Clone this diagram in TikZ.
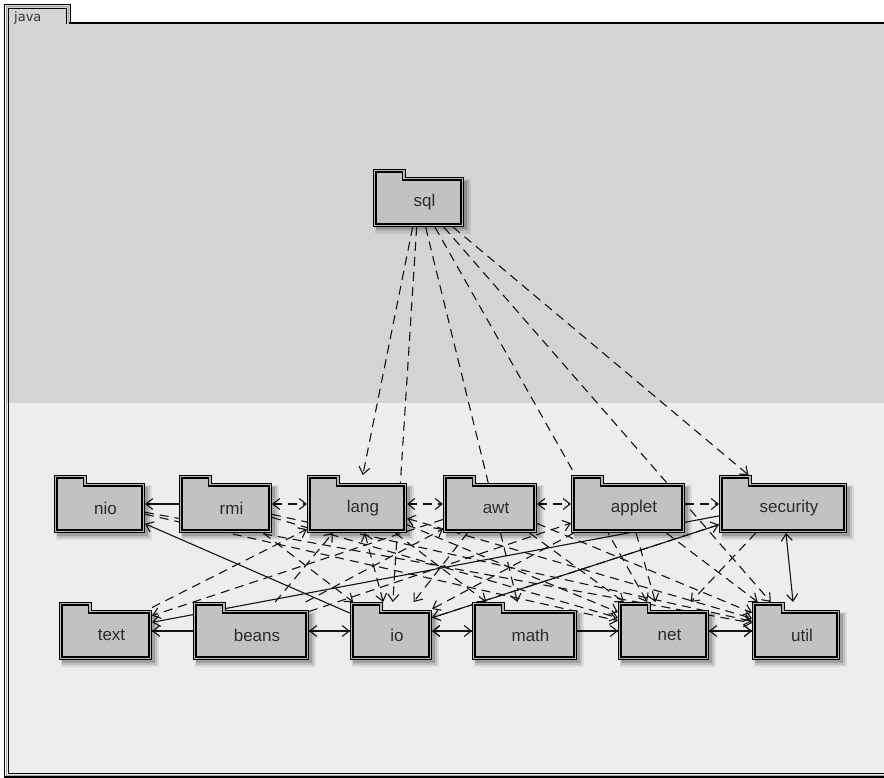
\documentclass[tikz,border=0pt]{standalone}
\usepackage{fontspec}
\setmainfont{Liberation Sans}
\newfontfamily\tabfont{DejaVu Sans}
\usetikzlibrary{arrows.meta}
\pgfdeclarelayer{bg}
\pgfdeclarelayer{edges}
\pgfsetlayers{bg,edges,main}
\definecolor{topband}{HTML}{D4D4D4}
\definecolor{lowband}{HTML}{EDEDED}
\definecolor{pkgfill}{HTML}{C2C2C2}
\definecolor{txt}{HTML}{2B2B2B}
\tikzset{
  pkgline/.style={draw=black, line width=1.2pt, double=gray!55, double distance=1.2pt, fill=pkgfill},
  pkgnode/.style={draw=none, inner sep=0pt, outer sep=0pt, rectangle},
  pkglabel/.style={text=txt, font=\fontsize{17}{19}\selectfont, inner sep=0pt},
  tip/.style={-{Straight Barb[length=7pt,width=11pt,line width=1.1pt]}},
  dep/.style={draw=black!92, line width=1.1pt, dash pattern=on 9pt off 6pt, tip},
  depb/.style={dep, {Straight Barb[length=7pt,width=11pt]}-{Straight Barb[length=7pt,width=11pt]}},
  sol/.style={draw=black!92, line width=1.1pt, tip},
  solb/.style={sol, {Straight Barb[length=7pt,width=11pt]}-{Straight Barb[length=7pt,width=11pt]}},
}
% name, label, x1, x2, tabtop
\newcommand\pkgbox[5]{%
  \fill[black, opacity=0.08] (#3+2,-#5-10) rectangle (#4+7,-#5-65);
  \fill[black, opacity=0.12] (#3+3,-#5-11) rectangle (#4+4.5,-#5-62.5);
  \fill[black, opacity=0.16] (#3+3,-#5-12) rectangle (#4+2.5,-#5-60.5);
  \path[pkgline] (#3+1.8,-#5-1.8) -- (#3+31,-#5-1.8) -- (#3+31,-#5-9.8) -- (#4-1.8,-#5-9.8) -- (#4-1.8,-#5-56.2) -- (#3+1.8,-#5-56.2) -- cycle;
  \node[pkgnode, minimum width=#4pt-#3pt, minimum height=58pt] (#1) at ({(#3+#4)/2},{-#5-29}) {};
  \node[pkglabel] at ({(#3+#4)/2+6},{-#5-33}) {#2};
}
\begin{document}
\begin{tikzpicture}[x=1pt,y=1pt]
\useasboundingbox (0,0) rectangle (884,-778);
\begin{pgfonlayer}{bg}
\fill[topband] (6,-23) rectangle (884,-403);
\fill[lowband] (6,-403) rectangle (884,-776);
\fill[topband] (6,-5) rectangle (70,-24);
\end{pgfonlayer}
% frame
\draw[black, line width=1.3pt] (4.5,-777) -- (4.5,-4.5) -- (70.5,-4.5) -- (70.5,-23);
\draw[gray!70, line width=1.2pt] (6.6,-777) -- (6.6,-6.6) -- (68.4,-6.6) -- (68.4,-23);
\draw[black, line width=1pt] (8.6,-774) -- (8.6,-8.6) -- (66.4,-8.6) -- (66.4,-24);
\draw[black, line width=2.4pt] (69,-23) -- (884,-23);
\draw[black, line width=1.4pt] (4,-777) -- (884,-777);
\draw[gray!70, line width=1pt] (6,-775) -- (884,-775);
\draw[black, line width=0.8pt] (8.6,-773.5) -- (884,-773.5);
\node[text=black!80, font=\tabfont\fontsize{13}{14}\selectfont, anchor=base west, inner sep=0pt] (javalbl) at (14,-22) {java};
% packages
\pkgbox{sql}{sql}{373}{464}{169}
\pkgbox{nio}{nio}{54}{145}{475}
\pkgbox{rmi}{rmi}{179}{272}{475}
\pkgbox{lang}{lang}{307}{407}{475}
\pkgbox{awt}{awt}{443}{537}{475}
\pkgbox{applet}{applet}{571}{685}{475}
\pkgbox{security}{security}{719}{847}{475}
\pkgbox{text}{text}{59}{152}{602}
\pkgbox{beans}{beans}{193}{309}{602}
\pkgbox{io}{io}{350}{432}{602}
\pkgbox{math}{math}{472}{577}{602}
\pkgbox{net}{net}{618}{709}{602}
\pkgbox{util}{util}{752}{840}{602}
\begin{pgfonlayer}{edges}
% from sql
\foreach \t in {lang,io,math,net,util,security} \draw[dep] (sql) -- (\t);
% neighbours
\draw[sol] (rmi) -- (nio);
\draw[depb] (rmi) -- (lang);
\draw[depb] (lang) -- (awt);
\draw[depb] (awt) -- (applet);
\draw[dep] (applet) -- (security);
\draw[sol] (beans) -- (text);
\draw[depb] (beans) -- (io);
\draw[depb] (io) -- (math);
\draw[sol] (math) -- (net);
\draw[solb] (net) -- (util);
\draw[solb] (security) -- (util);
% diagonals
\draw[sol] (io) -- (nio);
\draw[dep] (nio) -- (net);
\draw[dep] (nio) -- (util);
\draw[dep] (rmi) -- (net);
\draw[dep] (rmi) -- (util);
\draw[dep] (rmi) -- (io);
\draw[depb] (lang) -- (io);
\draw[dep] (lang) -- (net);
\draw[depb] (lang) -- (util);
\draw[dep] (lang) -- (math);
\draw[dep] (text) -- (lang);
\draw[dep] (text) -- (util);
\draw[sol] (security) -- (text);
\draw[dep] (beans) -- (lang);
\draw[dep] (beans) -- (awt);
\draw[dep] (beans) -- (applet);
\draw[dep] (awt) -- (io);
\draw[dep] (awt) -- (net);
\draw[dep] (awt) -- (util);
\draw[dep] (awt) -- (text);
\draw[dep] (applet) -- (io);
\draw[dep] (applet) -- (net);
\draw[dep] (applet) -- (util);
\draw[dep] (security) -- (io);
\draw[sol] (io) -- (security);
\draw[dep] (security) -- (net);
\draw[dep] (util) -- (io);
\end{pgfonlayer}
\end{tikzpicture}
\end{document}
